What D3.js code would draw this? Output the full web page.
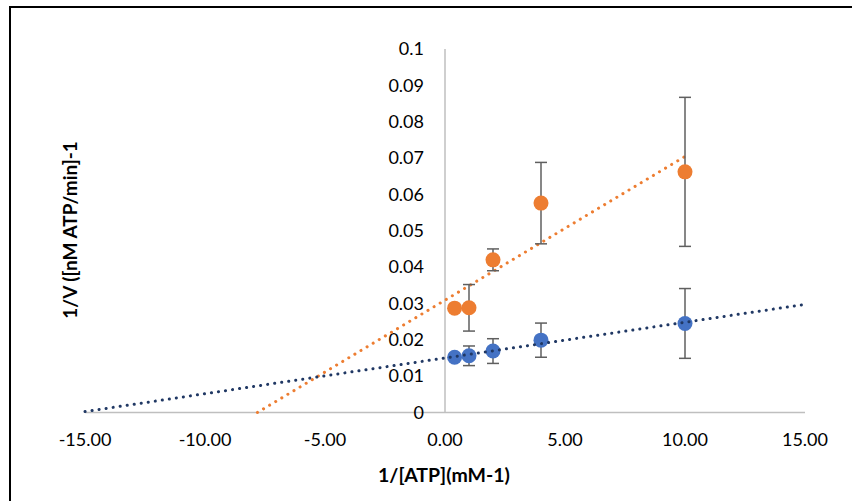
<!DOCTYPE html>
<html>
<head>
<meta charset="utf-8">
<script src="https://cdn.jsdelivr.net/npm/d3@7"></script>
<style>
  body { margin: 0; background: #fff; }
  svg { display: block; }
</style>
</head>
<body>
<svg width="852" height="501"></svg>
<script>
// data
var xvals = [0.4, 1, 2, 4, 10];
var orangeY = [0.0287, 0.0288, 0.0420, 0.0576, 0.0662];
var orangeErr = [0, 0.0064, 0.0030, 0.0112, 0.0205];
var blueY = [0.0152, 0.0156, 0.0169, 0.0199, 0.0245];
var blueErr = [0, 0.0027, 0.0034, 0.0047, 0.0096];
var orangeTrendRange = [-15, 10];
var blueTrendRange = [-15, 15];
var xTicks = [-15, -10, -5, 0, 5, 10, 15];
var yTicks = [0, 0.01, 0.02, 0.03, 0.04, 0.05, 0.06, 0.07, 0.08, 0.09, 0.1];

var svg = d3.select("svg");
var font = "Lato, 'Open Sans', sans-serif";
var loc = d3.formatLocale({ decimal: ".", thousands: ",", grouping: [3], currency: ["", ""], minus: "-" });

// frame (cropped at right/bottom)
svg.append("rect")
   .attr("x", 10).attr("y", 7)
   .attr("width", 900).attr("height", 600)
   .attr("fill", "none").attr("stroke", "#000").attr("stroke-width", 2);

var xscale = d3.scaleLinear().domain([-15, 15]).range([85, 805]);
var yscale = d3.scaleLinear().domain([0, 0.1]).range([412.5, 49]);

// axis lines
svg.append("line")
   .attr("x1", xscale(-15)).attr("x2", xscale(15))
   .attr("y1", yscale(0)).attr("y2", yscale(0))
   .attr("stroke", "#bfbfbf").attr("stroke-width", 1.5);
svg.append("line")
   .attr("x1", xscale(0)).attr("x2", xscale(0))
   .attr("y1", yscale(0)).attr("y2", yscale(0.1))
   .attr("stroke", "#bfbfbf").attr("stroke-width", 1.5);

// tick labels
svg.append("g").selectAll("text").data(xTicks).enter()
   .append("text")
   .attr("x", function(d) { return xscale(d); })
   .attr("y", 446)
   .attr("text-anchor", "middle")
   .attr("font-family", font).attr("font-size", 18).attr("fill", "#000")
   .text(loc.format(".2f"));

svg.append("g").selectAll("text").data(yTicks).enter()
   .append("text")
   .attr("x", 424)
   .attr("y", function(d) { return yscale(d); })
   .attr("dy", "0.35em")
   .attr("text-anchor", "end")
   .attr("font-family", font).attr("font-size", 18).attr("fill", "#000")
   .text(function(d) { return loc.format("~g")(d); });

// axis titles
svg.append("text")
   .attr("x", 444).attr("y", 482)
   .attr("text-anchor", "middle")
   .attr("font-family", font).attr("font-size", 19.5).attr("font-weight", "bold")
   .text("1/[ATP](mM-1)");
svg.append("text")
   .attr("transform", "translate(77,230) rotate(-90)")
   .attr("text-anchor", "middle")
   .attr("font-family", font).attr("font-size", 19).attr("font-weight", "bold")
   .text("1/V ([nM ATP/min]-1");

// least-squares trendline, clipped to y >= 0
function trend(ys, range) {
  var mx = d3.mean(xvals), my = d3.mean(ys);
  var sxy = d3.sum(xvals, function(x, i) { return (x - mx) * (ys[i] - my); });
  var sxx = d3.sum(xvals, function(x) { return (x - mx) * (x - mx); });
  var m = sxy / sxx, b = my - m * mx;
  var x0 = Math.max(range[0], -b / m);
  return [[x0, m * x0 + b], [range[1], m * range[1] + b]];
}

function drawTrend(ys, range, color) {
  var pts = trend(ys, range);
  svg.append("line")
     .attr("x1", xscale(pts[0][0])).attr("y1", yscale(pts[0][1]))
     .attr("x2", xscale(pts[1][0])).attr("y2", yscale(pts[1][1]))
     .attr("stroke", color).attr("stroke-width", 3)
     .attr("stroke-linecap", "round")
     .attr("stroke-dasharray", "0.1 7");
}

function drawSeries(ys, errs, dotColor) {
  var eb = svg.append("g").selectAll("g").data(xvals).enter()
              .append("g")
              .filter(function(d, i) { return errs[i] > 0; });
  eb.append("line")
    .attr("x1", function(d) { return xscale(d); })
    .attr("x2", function(d) { return xscale(d); })
    .attr("y1", function(d) { var i = xvals.indexOf(d); return yscale(ys[i] + errs[i]); })
    .attr("y2", function(d) { var i = xvals.indexOf(d); return yscale(ys[i] - errs[i]); })
    .attr("stroke", "#5f5f5f").attr("stroke-width", 1.5);
  [1, -1].forEach(function(s) {
    eb.append("line")
      .attr("x1", function(d) { return xscale(d) - 6; })
      .attr("x2", function(d) { return xscale(d) + 6; })
      .attr("y1", function(d) { var i = xvals.indexOf(d); return yscale(ys[i] + s * errs[i]); })
      .attr("y2", function(d) { var i = xvals.indexOf(d); return yscale(ys[i] + s * errs[i]); })
      .attr("stroke", "#5f5f5f").attr("stroke-width", 1.5);
  });

  svg.append("g").selectAll("circle").data(xvals).enter()
     .append("circle")
     .attr("cx", function(d) { return xscale(d); })
     .attr("cy", function(d, i) { return yscale(ys[i]); })
     .attr("r", 7.5)
     .attr("fill", dotColor);
}

drawTrend(orangeY, orangeTrendRange, "#ed7d31");
drawSeries(orangeY, orangeErr, "#ed7d31");
drawSeries(blueY, blueErr, "#4472c4");
// blue trend dots sit over the markers in the original
drawTrend(blueY, blueTrendRange, "#203864");
</script>
</body>
</html>
